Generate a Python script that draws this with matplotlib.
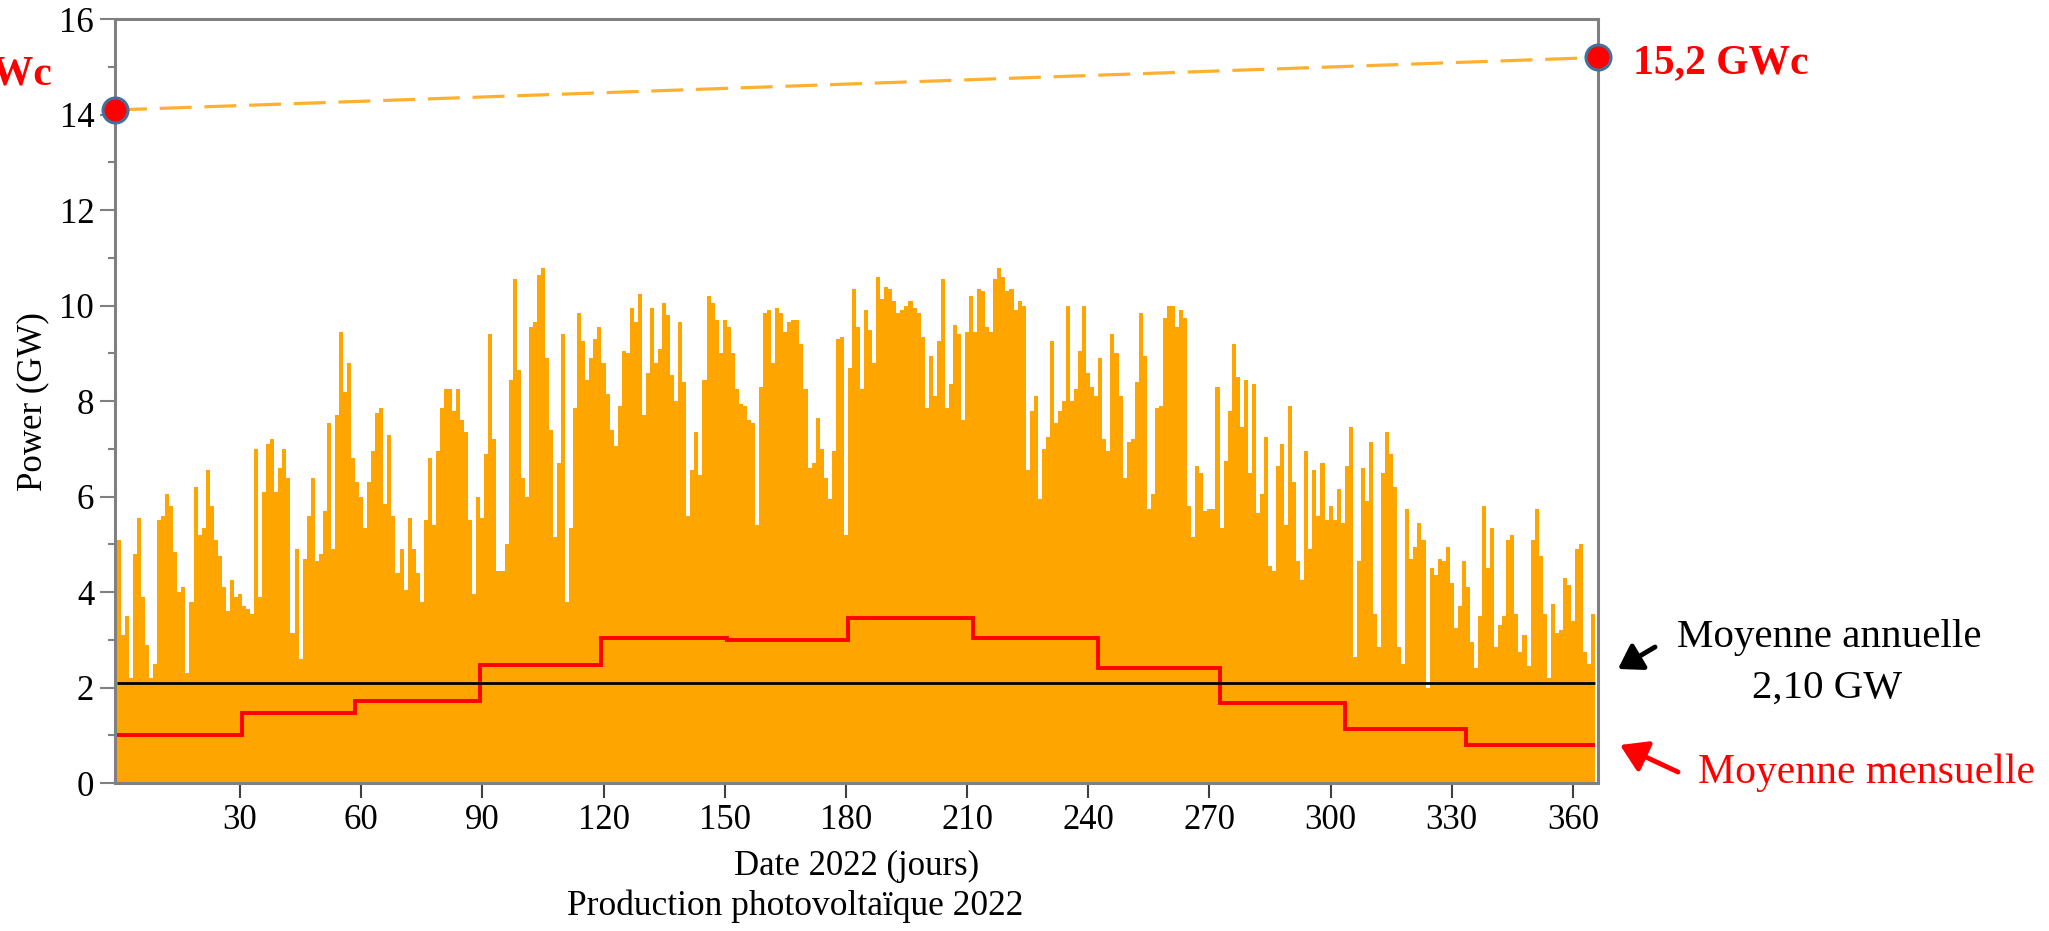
from matplotlib import pyplot as plt
import numpy as np

plt.rcParams['font.family'] = ['Liberation Serif', 'DejaVu Serif']

# daily peak of PV power (GW), day 0 .. 365
daily_peak = [
    5.1, 3.1, 3.5, 2.2, 4.8, 5.55, 3.9, 2.9, 2.2, 2.5,
    5.5, 5.6, 6.05, 5.8, 4.85, 4.0, 4.1, 2.3, 3.8,
    6.2, 5.2, 5.35, 6.55, 5.8, 5.1, 4.75, 4.1, 3.6, 4.25,
    3.9, 3.95, 3.7, 3.65, 3.55, 7.0, 3.9, 6.1, 7.1, 7.2,
    6.1, 6.6, 7.0, 6.4, 3.15, 4.9, 2.6, 4.7, 5.6, 6.4,
    4.65, 4.8, 5.7, 7.55, 4.9, 7.7, 9.45, 8.2, 8.8, 6.8,
    6.3, 6.0, 5.35, 6.3, 6.95, 7.75, 7.85, 5.85, 7.3, 5.6,
    4.4, 4.9, 4.05, 5.55, 4.9, 4.4, 3.8, 5.5, 6.8, 5.4,
    6.95, 7.85, 8.25, 8.25, 7.8, 8.25, 7.6, 7.35, 5.5, 3.95,
    6.0, 5.55,
    # april - june
    6.9, 9.4, 7.2, 4.45, 4.45, 5.0, 8.45, 10.55, 8.65, 6.4,
    6.0, 9.55, 9.65, 10.65, 10.8, 8.9, 7.4, 5.15, 6.7, 9.4,
    3.8, 5.35, 7.85, 9.85, 9.25, 8.45, 8.9, 9.3, 9.55, 8.8,
    8.15, 7.4, 7.05, 7.9, 9.05, 9.0, 9.95, 9.65, 10.25, 7.7,
    8.6, 9.95, 8.8, 9.1, 10.05, 9.8, 8.55, 8.0, 9.65, 8.4,
    5.6, 6.55, 7.35, 6.45, 8.45, 10.2, 10.05, 9.7, 9.0, 9.7,
    9.55, 9.0, 8.25, 7.95, 7.9, 7.6, 7.55, 5.4, 8.3, 9.85,
    9.9, 8.8, 9.95, 9.85, 9.45, 9.65, 9.7, 9.7, 9.2, 8.25,
    6.6, 6.7, 7.65, 7.0, 6.4, 5.95, 6.95, 9.3, 9.35, 5.2,
    8.7, 10.35,
    # july - september
    9.55, 8.25, 9.9, 9.5, 8.8, 10.6, 10.15, 10.4, 10.35, 10.1,
    9.85, 9.9, 10.0, 10.1, 9.95, 9.85, 9.35, 7.85, 8.95, 8.1,
    9.25, 10.55, 7.85, 8.35, 9.6, 9.4, 7.6, 9.45, 10.2, 9.45,
    10.35, 10.3, 9.55, 9.45, 10.55, 10.8, 10.6, 10.3, 10.35, 9.9,
    10.1, 10.0, 6.55, 7.8, 8.1, 5.95, 7.0, 7.25, 9.25, 7.55,
    7.8, 8.0, 10.0, 8.0, 8.25, 9.05, 10.0, 8.6, 8.3, 8.1,
    8.9, 7.2, 6.95, 9.4, 9.0, 8.1, 6.4, 7.15, 7.2, 8.4,
    9.85, 8.95, 5.75, 6.05, 7.85, 7.9, 9.75, 10.0, 10.0, 9.55,
    9.9, 9.75, 5.8, 5.15, 6.65, 6.5, 5.7, 5.75, 5.75, 8.3,
    5.35, 6.75,
    # october - december
    7.8, 9.2, 8.5, 7.45, 8.45, 6.5, 8.35, 5.65, 6.05, 7.25,
    4.55, 4.45, 6.65, 7.1, 5.4, 7.9, 6.3, 4.65, 4.25, 6.95,
    4.9, 6.55, 5.6, 6.7, 5.5, 5.8, 5.5, 6.15, 5.45, 6.65,
    7.45, 2.65, 4.65, 6.6, 5.9, 7.15, 3.55, 2.85, 6.5, 7.35,
    6.9, 6.2, 2.85, 2.5, 5.75, 4.7, 4.95, 5.45, 5.1, 2.0,
    4.5, 4.35, 4.7, 4.65, 4.95, 4.2, 3.25, 3.7, 4.65, 4.1,
    2.95, 2.4, 3.5, 5.8, 4.5, 5.35, 2.85, 3.3, 3.5, 5.1,
    5.2, 3.55, 2.75, 3.1, 2.45, 5.1, 5.75, 4.75, 3.55, 2.2,
    3.75, 3.15, 3.2, 4.3, 4.15, 3.4, 4.9, 5.0, 2.75, 2.5,
    3.55,
]

# monthly means (GW)
month_start = [0, 31, 59, 90, 120, 151, 181, 212, 243, 273, 304, 334]
month_mean = [1.0, 1.46, 1.72, 2.48, 3.04, 3.0, 3.45, 3.04, 2.41, 1.67, 1.13, 0.8]
annual_mean = 2.10

# installed capacity (GWc) start / end of year
capa_start = 14.1
capa_end = 15.2

W, H = 2049, 931
fig = plt.figure(figsize=(W / 100, H / 100), dpi=100)
ax = fig.add_axes([115 / W, (H - 783) / H, (1598 - 115) / W, (783 - 19.3) / H])

xmin, xmax = -0.94, 366.2
n = len(daily_peak)
edges = np.arange(n + 1) - 0.5
ax.stairs(daily_peak, edges, fill=True, color='#FFA500', lw=0)

m_edges = np.array(month_start + [n]) - 0.5
ax.stairs(month_mean, m_edges, color='#FF0000', lw=2.8, baseline=None)
ax.hlines(annual_mean, edges[0], edges[-1], color='black', lw=2)

ax.plot([xmin, xmax], [capa_start, capa_end], color='#FFB02E', lw=2.3,
        dashes=(10, 4), zorder=3)
ax.plot([xmin, xmax], [capa_start, capa_end], 'o', ms=18, mfc='#FF0000',
        mec='#41719C', mew=2.2, clip_on=False, zorder=5)

ax.set_xlim(xmin, xmax)
ax.set_ylim(0, 16)
ax.set_xticks(np.arange(30, 361, 30))
ax.set_yticks(np.arange(0, 17, 2))
ax.set_yticks(np.arange(1, 16, 2), minor=True)

for s in ax.spines.values():
    s.set_color('#808080')
    s.set_linewidth(2.2)
ax.tick_params(axis='both', which='major', direction='out', length=11,
               width=1.5, labelsize=25, pad=4)
ax.tick_params(axis='y', which='major', color='#808080')
ax.tick_params(axis='y', which='minor', direction='out', length=5,
               width=1.5, color='#808080')
ax.tick_params(axis='x', color='#404040')

ax.set_xlabel('Date 2022 (jours)', fontsize=25, va='center')
ax.xaxis.set_label_coords(0.5, (783 - 866) / 763.7)
ax.set_ylabel('Power (GW)', fontsize=25, va='center')
ax.yaxis.set_label_coords((33 - 115) / 1483, 0.5)

fig.text(795 / W, 1 - 906 / H, 'Production photovoltaïque 2022',
         ha='center', va='center', fontsize=25.5)

# capacity labels
fig.text(52 / W, 1 - 74 / H, '14,1 GWc', ha='right', va='center',
         fontsize=30, fontweight='bold', color='#FF0000')
fig.text(1633 / W, 1 - 63 / H, '15,2 GWc', ha='left', va='center',
         fontsize=30, fontweight='bold', color='#FF0000')

# mean annotations
fig.text(1829 / W, 1 - 638 / H, 'Moyenne annuelle', ha='center',
         va='center', fontsize=29.5)
fig.text(1827 / W, 1 - 688 / H, '2,10 GW', ha='center', va='center',
         fontsize=29.5)
fig.text(1867 / W, 1 - 773 / H, 'Moyenne mensuelle', ha='center',
         va='center', fontsize=30, color='#FF0000')

ax.annotate('', xy=(1618, H - 669), xycoords='figure pixels',
            xytext=(1655, H - 647), textcoords='figure pixels',
            arrowprops=dict(arrowstyle='-|>,head_length=0.7,head_width=0.45',
                            mutation_scale=20, lw=3.5, color='black',
                            shrinkA=0, shrinkB=0))
ax.annotate('', xy=(1620, H - 745), xycoords='figure pixels',
            xytext=(1678, H - 772), textcoords='figure pixels',
            arrowprops=dict(arrowstyle='-|>,head_length=0.8,head_width=0.5',
                            mutation_scale=20, lw=3.5, color='#FF0000',
                            shrinkA=0, shrinkB=0))

fig.savefig('out.png', dpi=100)
